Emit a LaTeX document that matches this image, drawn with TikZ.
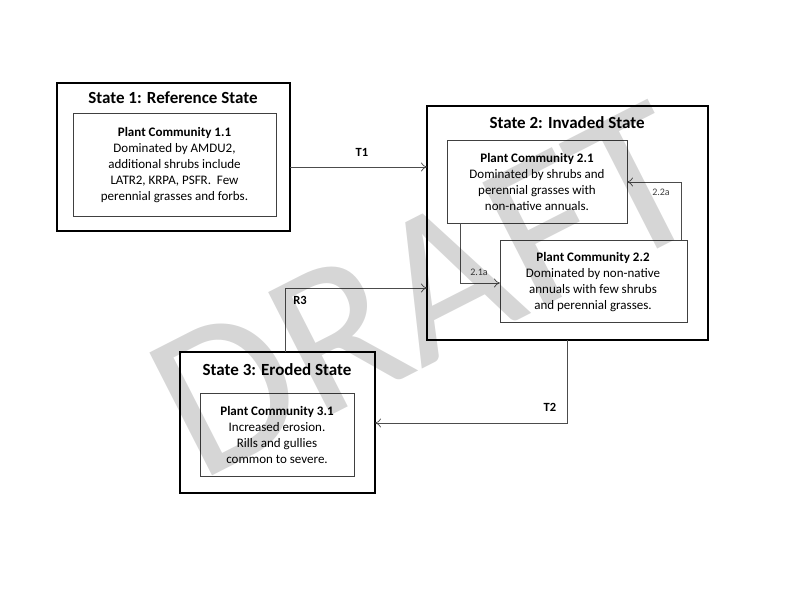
\documentclass[tikz,border=0pt]{standalone}
\usepackage{fontspec}
\setmainfont{Carlito}
\usetikzlibrary{arrows.meta}
\begin{document}
\begin{tikzpicture}[x=1pt,y=-1pt,
 statebox/.style={draw=black,line width=2.4pt,fill=none},
 pcbox/.style={draw=black!75,line width=0.7pt,fill=white},
 ttl/.style={font=\fontsize{17}{20}\selectfont\bfseries},
 txt/.style={font=\fontsize{13}{16}\selectfont,align=center},
 arr/.style={draw=black!70,line width=0.7pt,-{To[length=6pt,width=9pt]}},
 lbl/.style={font=\fontsize{12.5}{14}\selectfont\bfseries},
 slbl/.style={font=\fontsize{10}{11}\selectfont,text=black!75}]
\useasboundingbox (0,0) rectangle (800,600);
\fill[white] (0,0) rectangle (800,600);
% State 1
\draw[statebox] (57,83) rectangle (290,231);
\node[ttl] (t1) at (173,98) {State 1: Reference State};
\draw[pcbox] (73,113) rectangle (276,216);
\node[txt] (pc11) at (174.5,165) {\textbf{Plant Community 1.1}\\Dominated by AMDU2,\\additional shrubs include\\LATR2, KRPA, PSFR.\ \ Few\\perennial grasses and forbs.};
% State 2
\draw[statebox] (427,106) rectangle (708,340);
\node[ttl] (t2) at (567,123) {State 2: Invaded State};
\draw[pcbox] (447,140) rectangle (627,223);
\node[txt] (pc21) at (537,182) {\textbf{Plant Community 2.1}\\Dominated by shrubs and\\perennial grasses with\\non-native annuals.};
\draw[pcbox] (500,240) rectangle (687,322);
\node[txt] (pc22) at (593,282) {\textbf{Plant Community 2.2}\\Dominated\ by non-native\\annuals with few shrubs\\and perennial grasses.};
% State 3
\draw[statebox] (180,352) rectangle (375,493);
\node[ttl] (t3) at (277,370) {State 3: Eroded State};
\draw[pcbox] (200,393) rectangle (354,476);
\node[txt] (pc31) at (277,435) {\textbf{Plant Community 3.1}\\Increased erosion.\\Rills and gullies\\common to severe.};
% arrows
\coordinate (a1) at (290,167); \coordinate (b1) at (427,167);
\draw[arr] (a1) -- (b1);
\node[lbl] (T1) at (362,152) {T1};
\coordinate (a2) at (285,352); \coordinate (b2) at (427,288);
\draw[arr] (a2) |- (b2);
\node[lbl] (R3) at (300,300) {R3};
\coordinate (a3) at (567,340); \coordinate (b3) at (375,423);
\draw[arr] (a3) |- (b3);
\node[lbl] (T2) at (550,407) {T2};
\coordinate (a4) at (460,223); \coordinate (b4) at (500,283);
\draw[arr] (a4) |- (b4);
\node[slbl] (l21) at (479,272) {2.1a};
\coordinate (a5) at (681,240); \coordinate (b5) at (627,182);
\draw[arr] (a5) |- (b5);
\node[slbl] (l22) at (661,192) {2.2a};
\node[rotate=27,text=black,opacity=0.16,font=\fontsize{215}{215}\selectfont] (wm) at (425,290) {DRAFT};
\end{tikzpicture}
\end{document}
